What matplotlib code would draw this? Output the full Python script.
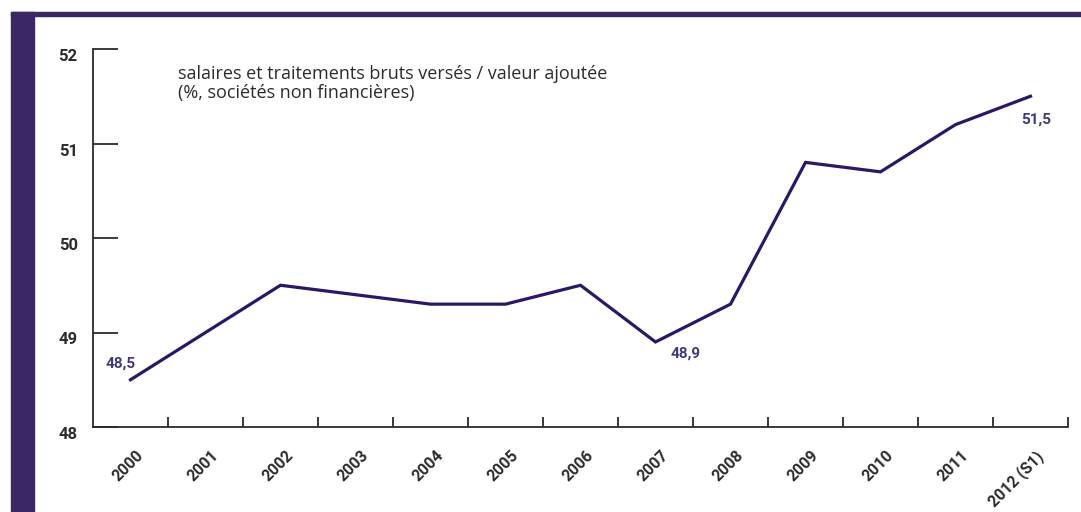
import matplotlib.pyplot as plt
import matplotlib.transforms as mtransforms
from matplotlib.patches import Rectangle

years = ["2000", "2001", "2002", "2003", "2004", "2005", "2006",
         "2007", "2008", "2009", "2010", "2011", "2012 (S1)"]
ratio = [48.5, 49.0, 49.5, 49.4, 49.3, 49.3, 49.5,
         48.9, 49.3, 50.8, 50.7, 51.2, 51.5]
y_ticks = [48, 49, 50, 51, 52]
# label text and its offset from the point (points)
labelled = {0: ("48,5", (-18, 9)), 7: ("48,9", (11, -11)),
            12: ("51,5", (-7, -20))}

FRAME = "#3a2763"
LINE = "#2b1766"
NUM = "#3f3a7a"
TXT = "#2b2b2b"

plt.rcParams["font.family"] = ["Roboto", "DejaVu Sans"]

W, H = 1081, 512
fig = plt.figure(figsize=(W / 100, H / 100), dpi=100)

# purple frame: left bar and top rule
fig.patches.append(Rectangle((11 / W, 0), 23 / W, 1 - 12 / H,
                             transform=fig.transFigure, color=FRAME))
fig.patches.append(Rectangle((11 / W, 1 - 16 / H), 1 - 11 / W, 4 / H,
                             transform=fig.transFigure, color=FRAME))

ax = fig.add_axes([93 / W, 1 - 427 / H, (1068 - 93) / W, (427 - 49) / H])
x = list(range(len(years)))
ax.plot(x, ratio, color=LINE, lw=2.3, solid_joinstyle="miter")

ax.set_xlim(-0.5, len(years) - 0.5)
ax.set_ylim(48, 52)
for side in ("top", "right"):
    ax.spines[side].set_visible(False)
for side in ("left", "bottom"):
    ax.spines[side].set_color("#2b2b2b")
    ax.spines[side].set_linewidth(1.3)

ax.set_yticks(y_ticks)
ax.set_yticklabels([str(v) for v in y_ticks], fontsize=12,
                   fontweight="semibold", color=TXT, va="top")
ax.tick_params(axis="y", direction="in", length=18, width=1.3,
               color="#2b2b2b", pad=11)

ax.set_xticks(x)
ax.set_xticks([i + 0.5 for i in x], minor=True)
ax.set_xticklabels(years, rotation=45, ha="right", rotation_mode="anchor",
                   fontsize=11.5, fontweight="semibold", color=TXT)
ax.tick_params(axis="x", which="major", length=0, pad=15)
ax.tick_params(axis="x", which="minor", direction="in", length=7,
               width=1.3, color="#2b2b2b")
offset = mtransforms.ScaledTranslation(5 / 100, 0, fig.dpi_scale_trans)
for lab in ax.get_xticklabels():
    lab.set_transform(lab.get_transform() + offset)

for i, (txt, off) in labelled.items():
    ax.annotate(txt, (x[i], ratio[i]), xytext=off,
                textcoords="offset points", color=NUM, fontsize=11,
                fontweight="semibold")

ax.text(0.087, 0.958, "salaires et traitements bruts versés / valeur ajoutée\n"
        "(%, sociétés non financières)", transform=ax.transAxes,
        fontsize=13, color=TXT, va="top", ha="left", linespacing=1.08,
        family=["Open Sans", "DejaVu Sans"])

fig.savefig("out.png", dpi=100)
